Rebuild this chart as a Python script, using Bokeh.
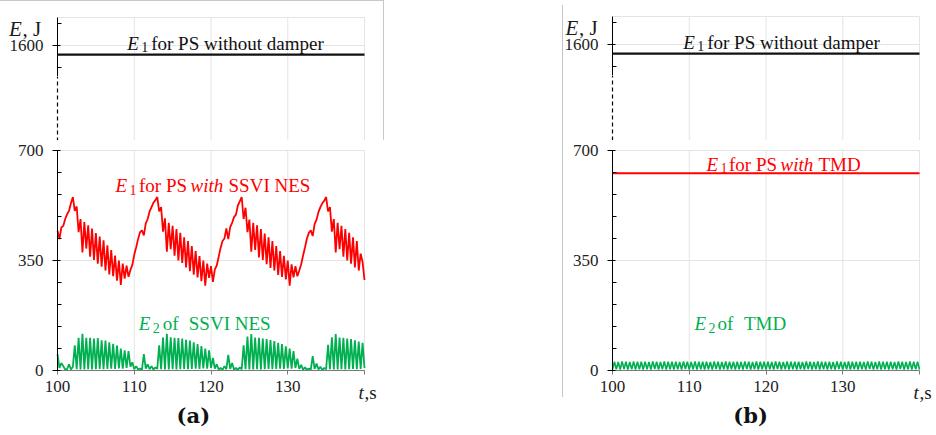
from bokeh.plotting import figure
from bokeh.layouts import row, column
from bokeh.models import FixedTicker, Label, Range1d, Div
from bokeh.embed import file_html
from bokeh.resources import INLINE

# ---------------- data ----------------
T_START, T_END, T_STEP = 100.0, 140.0, 0.25
t = [T_START + i * T_STEP for i in range(161)]

X_TICKS = [100, 110, 120, 130, 140]
Y_TICKS_LOW = [0, 350, 700]
Y_MINOR_LOW = [70, 140, 210, 280, 420, 490, 560, 630]
Y_TICKS_UP = [1600]
Y_MINOR_UP = [1530, 1670]

E1_NO_DAMPER_T = [100, 140]
E1_NO_DAMPER = [1571, 1571]        # E1 for PS without damper (both panels)
E1_TMD_T = [100, 140]
E1_TMD = [628, 628]                # E1 for PS with TMD

E1_SSVI = [
    445, 418, 455, 460, 482, 497, 508, 532, 552,
    508, 522, 440, 482, 376, 472, 388, 462, 362, 452, 352, 437, 340, 426, 330,
    414, 318, 398, 306, 383, 300, 366, 286, 350, 272, 340, 292, 334, 298,
    320, 336, 368, 392, 418, 440, 446, 430, 468, 482, 506, 520, 534, 542, 552,
    506, 520, 442, 484, 378, 470, 386, 460, 365, 450, 350, 438, 342, 424, 328,
    412, 316, 396, 305, 380, 296, 364, 284, 350, 270, 340, 295, 332, 282,
    322, 334, 362, 390, 412, 420, 452, 418, 456, 470, 488, 496, 525, 538, 552,
    482, 518, 440, 480, 378, 470, 384, 462, 360, 450, 352, 436, 338, 424, 326,
    412, 318, 396, 304, 380, 298, 365, 290, 350, 270, 338, 296, 332, 300,
    318, 338, 366, 392, 420, 438, 446, 428, 466, 480, 504, 520, 532, 540, 552,
    506, 520, 442, 482, 376, 470, 386, 460, 362, 450, 350, 438, 340, 424, 328,
    412, 318, 372, 345, 288,
]

E2_SSVI = [
    52, 8, 24, 14, 3, 4, 20, 3, 12,
    80, 4, 104, 3, 117, 3, 104, 4, 104, 3, 102, 4, 103, 5, 96,
    4, 95, 5, 90, 6, 85, 5, 79, 7, 70, 6, 64, 8, 62,
    12, 26, 4, 14, 3, 6, 2, 52, 6, 20, 4, 14, 3, 10, 5,
    80, 4, 105, 3, 117, 3, 106, 4, 104, 3, 103, 4, 102, 5, 98,
    4, 95, 5, 90, 6, 84, 5, 78, 7, 70, 6, 64, 8, 40,
    6, 20, 3, 8, 2, 14, 4, 50, 5, 24, 3, 8, 2, 10, 4,
    80, 4, 108, 3, 116, 3, 105, 4, 104, 3, 102, 4, 100, 5, 97,
    4, 94, 5, 88, 6, 84, 5, 77, 7, 70, 6, 62, 8, 38,
    5, 18, 3, 10, 2, 6, 3, 46, 5, 22, 3, 12, 2, 8, 4,
    82, 4, 106, 3, 116, 3, 105, 4, 104, 3, 102, 4, 100, 5, 96,
    4, 92, 5, 88, 8,
]

E2_TMD = [
    3, 28, 4, 27, 3, 29, 5, 28, 3, 27, 4, 29, 3, 28, 4, 28,
    3, 28, 4, 27, 3, 29, 5, 28, 3, 27, 4, 29, 3, 28, 4, 28,
    3, 28, 4, 27, 3, 29, 5, 28, 3, 27, 4, 29, 3, 28, 4, 28,
    3, 28, 4, 27, 3, 29, 5, 28, 3, 27, 4, 29, 3, 28, 4, 28,
    3, 28, 4, 27, 3, 29, 5, 28, 3, 27, 4, 29, 3, 28, 4, 28,
    3, 28, 4, 27, 3, 29, 5, 28, 3, 27, 4, 29, 3, 28, 4, 28,
    3, 28, 4, 27, 3, 29, 5, 28, 3, 27, 4, 29, 3, 28, 4, 28,
    3, 28, 4, 27, 3, 29, 5, 28, 3, 27, 4, 29, 3, 28, 4, 28,
    3, 28, 4, 27, 3, 29, 5, 28, 3, 27, 4, 29, 3, 28, 4, 28,
    3, 28, 4, 27, 3, 29, 5, 28, 3, 27, 4, 29, 3, 28, 4, 28,
    3,
]

# ---------------- style / layout constants ----------------
FONT = "Liberation Serif"
RED = "#ff0000"
GREEN = "#00b050"
BLACK = "#111111"
GRID = "#e4e4e4"
TXT = "#1a1a1a"

PLOT_W = 307                     # pixels for 100..140 s
PX_PER_S = PLOT_W / (T_END - T_START)
PX_PER_J = 220 / 700             # pixels per joule (both parts of the broken axis)

UP_H = 140                       # upper canvas height
UP_REF_PX = 44                   # pixel row of 1600 J in the upper canvas
UP_TOP = 1689.1                  # top of the upper plot area
UP_AXIS_LO = 1500                # where the solid part of the upper axis stops

LOW_H = 293                      # lower canvas height
LOW_ZERO_PX = 230                # pixel row of 0 J in the lower canvas
LOW_TOP = 700


def make_fig(width, height, axis_px, y_lo, y_hi, styles=None):
    x0 = T_START - axis_px / PX_PER_S
    x1 = T_START + (width - axis_px) / PX_PER_S
    kw = dict(width=width, height=height,
              x_range=Range1d(x0, x1), y_range=Range1d(y_lo, y_hi),
              output_backend="svg", toolbar_location=None,
              min_border_left=0, min_border_right=0,
              min_border_top=0, min_border_bottom=0)
    if styles:
        kw["styles"] = styles
    p = figure(**kw)
    p.outline_line_color = None
    p.xgrid.visible = False
    p.ygrid.visible = False
    return p


def style_y(p, ticks, minor, bounds):
    ax = p.yaxis[0]
    ax.fixed_location = T_START
    ax.bounds = bounds
    ax.ticker = FixedTicker(ticks=ticks, minor_ticks=minor)
    ax.axis_line_color = "black"
    ax.major_tick_line_color = "black"
    ax.minor_tick_line_color = "black"
    ax.major_tick_in = 3
    ax.major_tick_out = 5
    ax.minor_tick_in = 4
    ax.minor_tick_out = 0
    ax.major_label_standoff = 9
    ax.major_label_text_font = FONT
    ax.major_label_text_font_size = "17px"
    ax.major_label_text_color = "#222222"


def grid(p, xs, ylo, yhi, ys):
    p.segment(x0=xs, y0=[ylo] * len(xs), x1=xs, y1=[yhi] * len(xs),
              line_color=GRID, line_width=1)
    p.segment(x0=[T_START] * len(ys), y0=ys, x1=[T_END] * len(ys), y1=ys,
              line_color=GRID, line_width=1)


def rich(p, x, y, parts, color):
    """parts: (text, style, dx_px, dy_px_down, size_px, font)"""
    for text, style, dx, dy, sz, *f in parts:
        p.add_layout(Label(x=x + dx / PX_PER_S, y=y - dy / PX_PER_J, text=text,
                           text_font=f[0] if f else FONT, text_font_style=style,
                           text_font_size=f"{sz}px", text_color=color,
                           text_align="left", text_baseline="alphabetic"))


def make_upper(width, axis_px, e_x, styles=None):
    y_lo = 1600 - (UP_H - UP_REF_PX) / PX_PER_J
    y_hi = 1600 + UP_REF_PX / PX_PER_J
    p = make_fig(width, UP_H, axis_px, y_lo, y_hi, styles)
    p.xaxis.visible = False
    grid(p, X_TICKS[1:], y_lo, UP_TOP, [1600, UP_TOP])
    style_y(p, Y_TICKS_UP, Y_MINOR_UP, (UP_AXIS_LO, UP_TOP))
    # axis break: dashed continuation of the y axis
    p.segment(x0=[T_START], y0=[y_lo], x1=[T_START], y1=[UP_AXIS_LO],
              line_color="black", line_width=1.2, line_dash="4 3")
    p.line(E1_NO_DAMPER_T, E1_NO_DAMPER, line_color=BLACK, line_width=2.2)
    # axis title "E, J"
    rich(p, e_x, 1654, [("E", "italic", 0, 0, 21), (", J", "normal", 13.5, 0, 21)], TXT)
    return p


def make_lower(width, axis_px, tag, tag_x):
    y_lo = -(LOW_H - LOW_ZERO_PX) / PX_PER_J
    y_hi = LOW_ZERO_PX / PX_PER_J
    p = make_fig(width, LOW_H, axis_px, y_lo, y_hi)
    grid(p, X_TICKS[1:], 0, LOW_TOP, [350, LOW_TOP])
    style_y(p, Y_TICKS_LOW, Y_MINOR_LOW, (0, LOW_TOP))
    ax = p.xaxis[0]
    ax.fixed_location = 0
    ax.bounds = (T_START, T_END)
    ax.ticker = FixedTicker(ticks=X_TICKS, minor_ticks=[])
    ax.major_label_overrides = {140: ""}
    ax.axis_line_color = "#7a7a7a"
    ax.major_tick_line_color = "#7a7a7a"
    ax.major_tick_in = 0
    ax.major_tick_out = 4
    ax.major_label_standoff = 6
    ax.major_label_text_font = FONT
    ax.major_label_text_font_size = "17px"
    ax.major_label_text_color = "#222222"
    # axis title "t,s"
    rich(p, 139.22, -69, [("t", "italic", 0, 0, 19), (",s", "normal", 6, 0, 19)], TXT)
    # panel tag
    p.add_layout(Label(x=tag_x, y=-143, text=tag, text_font="DejaVu Serif",
                       text_font_style="bold", text_font_size="21px",
                       text_align="center", text_baseline="middle", text_color="#111111"))
    return p


# ---------------- panel (a) ----------------
up_a = make_upper(384, 57, 93.68, styles={"border-top": "1px solid #c8c8c8",
                                          "border-right": "1px solid #c8c8c8"})
low_a = make_lower(384, 57, "(a)", 117.7)
low_a.line(t, E1_SSVI, line_color=RED, line_width=1.8)
low_a.line(t, E2_SSVI, line_color=GREEN, line_width=1.8)

# ---------------- panel (b) ----------------
up_b = make_upper(372, 49, 93.88)
low_b = make_lower(372, 49, "(b)", 118.0)
low_b.line(E1_TMD_T, E1_TMD, line_color=RED, line_width=2.0)
low_b.line(t, E2_TMD, line_color=GREEN, line_width=1.6)

# ---------------- in-plot texts ----------------
for p, x_e in ((up_a, 109.08), (up_b, 109.21)):
    rich(p, x_e, 1607, [("E", "italic", 0, 0, 19), ("1", "normal", 14, 4, 14),
                        ("for PS without damper", "normal", 24, 0, 19)], BLACK)

rich(low_a, 107.56, 588.6, [("E", "italic", 0, 0, 19), ("1", "normal", 14, 4, 14),
                            ("for PS", "normal", 23.5, 0, 19), ("with", "italic", 75, 0, 19),
                            ("SSVI NES", "normal", 113, 0, 19)], RED)
rich(low_a, 110.59, 149.5, [("E", "italic", 0, 0, 19), ("2", "normal", 14, 4, 14),
                            ("of", "normal", 24, 0, 19), ("SSVI NES", "normal", 50, 0, 19)], GREEN)

rich(low_b, 112.25, 657, [("E", "italic", 0, 0, 19), ("1", "normal", 14, 4, 14),
                          ("for PS", "normal", 22.5, 0, 19), ("with", "italic", 74, 0, 19),
                          ("TMD", "normal", 112, 0, 19)], RED)
rich(low_b, 110.68, 149.5, [("E", "italic", 0, 0, 19), ("2", "normal", 14, 4, 14),
                            ("of", "normal", 23, 0, 19), ("TMD", "normal", 49.5, 0, 19)], GREEN)

spacer = Div(text="", width=179, height=392, margin=(5, 0, 0, 0),
             styles={"border-right": "1px solid #c4c4c4", "box-sizing": "border-box"})

layout = row(column(up_a, low_a), spacer, column(up_b, low_b))

open("out.html", "w").write(file_html(layout, INLINE))
